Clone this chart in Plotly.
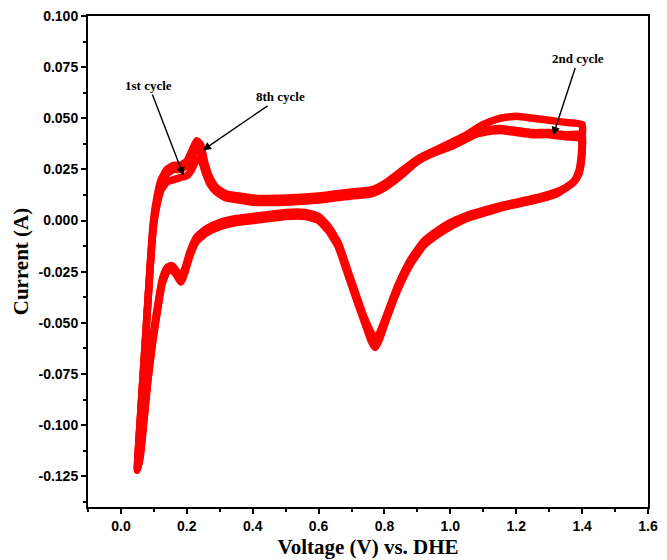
import plotly.graph_objects as go

# Anodic sweep (0.05 V -> 1.40 V), shared potential grid
V_an = [0.050, 0.058, 0.068, 0.078, 0.088, 0.098, 0.110, 0.122, 0.140, 0.160,
        0.180, 0.200, 0.215, 0.230, 0.242, 0.255, 0.270, 0.290, 0.320, 0.360,
        0.400, 0.500, 0.600, 0.700, 0.760, 0.800, 0.850, 0.900, 0.950, 1.000,
        1.050, 1.100, 1.150, 1.200, 1.250, 1.300, 1.350, 1.400]

I_an_c1 = [-0.122, -0.099, -0.074, -0.049, -0.024, -0.004, 0.008, 0.015, 0.019, 0.020,
           0.021, 0.022, 0.025, 0.030, 0.030, 0.024, 0.018, 0.014, 0.011, 0.010,
           0.009, 0.009, 0.010, 0.012, 0.013, 0.016, 0.022, 0.029, 0.034, 0.038,
           0.042, 0.047, 0.050, 0.051, 0.050, 0.049, 0.048, 0.047]
I_an_c2 = [-0.122, -0.100, -0.075, -0.050, -0.025, -0.003, 0.010, 0.018, 0.023, 0.025,
           0.025, 0.027, 0.031, 0.035, 0.033, 0.026, 0.019, 0.015, 0.012, 0.011,
           0.010, 0.010, 0.011, 0.013, 0.014, 0.017, 0.023, 0.029, 0.033, 0.036,
           0.040, 0.044, 0.045, 0.044, 0.043, 0.043, 0.042, 0.042]
I_an_c8 = [-0.121, -0.099, -0.074, -0.049, -0.024, -0.001, 0.012, 0.020, 0.025, 0.027,
           0.027, 0.029, 0.034, 0.039, 0.037, 0.028, 0.021, 0.016, 0.013, 0.012,
           0.011, 0.011, 0.012, 0.014, 0.015, 0.018, 0.024, 0.030, 0.034, 0.037,
           0.041, 0.043, 0.044, 0.043, 0.042, 0.042, 0.041, 0.040]

# Cathodic sweep (1.40 V -> 0.05 V)
V_cat = [1.400, 1.397, 1.390, 1.375, 1.350, 1.320, 1.280, 1.200, 1.150, 1.100,
         1.050, 1.000, 0.960, 0.920, 0.880, 0.840, 0.800, 0.785, 0.772, 0.760,
         0.740, 0.720, 0.690, 0.660, 0.630, 0.600, 0.560, 0.500, 0.450, 0.400,
         0.350, 0.300, 0.260, 0.230, 0.210, 0.195, 0.182, 0.170, 0.155, 0.140,
         0.125, 0.110, 0.095, 0.080, 0.068, 0.058, 0.050]

I_cat_c1 = [0.040, 0.031, 0.024, 0.019, 0.016, 0.013, 0.011, 0.008, 0.0060, 0.0035,
            0.001, -0.003, -0.007, -0.012, -0.021, -0.034, -0.051, -0.058, -0.062, -0.059,
            -0.050, -0.041, -0.027, -0.013, -0.005, 0.000, 0.002, 0.002, 0.001, 0.000,
            -0.001, -0.003, -0.006, -0.010, -0.017, -0.025, -0.030, -0.027, -0.024, -0.025,
            -0.031, -0.045, -0.061, -0.081, -0.101, -0.116, -0.122]
I_cat_c2 = [0.036, 0.029, 0.023, 0.019, 0.016, 0.013, 0.011, 0.008, 0.0064, 0.004,
            0.0015, -0.002, -0.006, -0.011, -0.020, -0.033, -0.050, -0.056, -0.060, -0.057,
            -0.049, -0.040, -0.026, -0.012, -0.004, 0.001, 0.003, 0.003, 0.002, 0.001,
            0.000, -0.002, -0.005, -0.009, -0.016, -0.024, -0.029, -0.026, -0.023, -0.024,
            -0.030, -0.044, -0.060, -0.080, -0.100, -0.115, -0.122]
I_cat_c8 = [0.034, 0.028, 0.023, 0.019, 0.016, 0.014, 0.012, 0.009, 0.0072, 0.005,
            0.0025, -0.001, -0.005, -0.010, -0.019, -0.032, -0.049, -0.055, -0.058, -0.055,
            -0.048, -0.039, -0.025, -0.011, -0.003, 0.002, 0.004, 0.004, 0.003, 0.002,
            0.001, -0.001, -0.004, -0.008, -0.015, -0.023, -0.028, -0.025, -0.022, -0.023,
            -0.029, -0.043, -0.059, -0.079, -0.099, -0.114, -0.121]

cycles = {
    "1st cycle": (I_an_c1, I_cat_c1),
    "2nd cycle": (I_an_c2, I_cat_c2),
    "8th cycle": (I_an_c8, I_cat_c8),
}

x_tickvals = [0.0, 0.2, 0.4, 0.6, 0.8, 1.0, 1.2, 1.4, 1.6]
x_ticktext = ["0.0", "0.2", "0.4", "0.6", "0.8", "1.0", "1.2", "1.4", "1.6"]
y_tickvals = [-0.125, -0.100, -0.075, -0.050, -0.025, 0.000, 0.025, 0.050, 0.075, 0.100]
y_ticktext = ["-0.125", "-0.100", "-0.075", "-0.050", "-0.025",
              "0.000", "0.025", "0.050", "0.075", "0.100"]

fig = go.Figure()
for name, (i_an, i_cat) in cycles.items():
    fig.add_trace(go.Scatter(
        x=V_an + V_cat, y=i_an + i_cat, mode="lines", name=name,
        line=dict(color="#ff0000", width=7.5, shape="spline", smoothing=0.5),
        showlegend=False,
    ))

serif = "Liberation Serif, Times New Roman, serif"
sans = "Liberation Sans, Arial, sans-serif"

# (label, arrow head x, head y, text x, text y)
notes = [
    ("1st cycle", 0.190, 0.022, 0.085, 0.0660),
    ("8th cycle", 0.248, 0.0343, 0.485, 0.0605),
    ("2nd cycle", 1.312, 0.0417, 1.388, 0.0790),
]
for label, hx, hy, tx, ty in notes:
    fig.add_annotation(
        x=hx, y=hy, ax=tx, ay=ty, axref="x", ayref="y", xref="x", yref="y",
        text="<b>" + label + "</b>",
        font=dict(family=serif, size=13, color="black"), showarrow=True,
        arrowhead=2, arrowsize=1.2, arrowwidth=1.4, arrowcolor="black",
    )

axis_common = dict(
    showline=True, linecolor="black", linewidth=2, mirror=True,
    ticks="outside", ticklen=5, tickwidth=1.5, tickcolor="black",
    showgrid=False, zeroline=False, automargin=False,
    tickfont=dict(family=sans, size=14, color="black", weight="bold"),
)

fig.update_xaxes(
    range=[-0.1, 1.6], tickvals=x_tickvals, ticktext=x_ticktext,
    minor=dict(dtick=0.1, ticks="outside", ticklen=3, tickcolor="black", tickwidth=1.5),
    title=dict(text="<b>Voltage (V) vs. DHE</b>", standoff=7,
               font=dict(family=serif, size=21, color="black")),
    **axis_common,
)
fig.update_yaxes(
    range=[-0.14, 0.10], tickvals=y_tickvals, ticktext=y_ticktext,
    minor=dict(dtick=0.0125, tick0=0, ticks="outside", ticklen=3, tickcolor="black", tickwidth=1.5),
    title=dict(text="<b>Current (A)</b>", standoff=4,
               font=dict(family=serif, size=21, color="black")),
    **axis_common,
)

fig.update_layout(
    width=667, height=560,
    margin=dict(l=88, r=19, t=16, b=53),
    paper_bgcolor="white", plot_bgcolor="white",
)

fig.write_html("out.html")
